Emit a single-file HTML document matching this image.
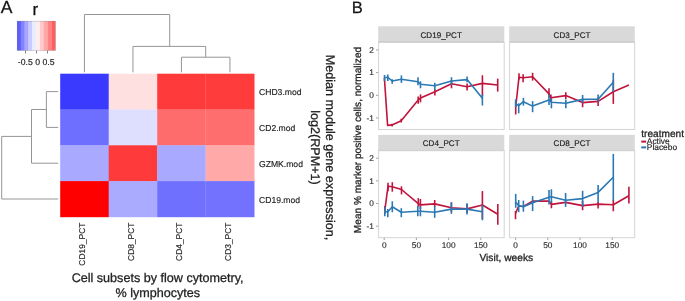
<!DOCTYPE html>
<html><head><meta charset="utf-8"><style>
html,body{margin:0;padding:0;background:#fff;}
body{width:685px;height:301px;overflow:hidden;}
svg{display:block;font-family:"Liberation Sans", sans-serif;will-change:transform;text-rendering:geometricPrecision;}
text{stroke:#222;stroke-width:0.28px;}
</style></head><body>
<svg width="685" height="301" viewBox="0 0 685 301">
<rect x="60.20" y="73.70" width="48.80" height="36.10" fill="#3a3aff"/>
<rect x="108.70" y="73.70" width="48.80" height="36.10" fill="#ffe0e0"/>
<rect x="157.20" y="73.70" width="48.80" height="36.10" fill="#ff3a3a"/>
<rect x="205.70" y="73.70" width="48.80" height="36.10" fill="#ff3c3c"/>
<rect x="60.20" y="109.50" width="48.80" height="36.10" fill="#6f6fff"/>
<rect x="108.70" y="109.50" width="48.80" height="36.10" fill="#dedeff"/>
<rect x="157.20" y="109.50" width="48.80" height="36.10" fill="#ff6c6c"/>
<rect x="205.70" y="109.50" width="48.80" height="36.10" fill="#ff6e6e"/>
<rect x="60.20" y="145.30" width="48.80" height="36.10" fill="#a9a9ff"/>
<rect x="108.70" y="145.30" width="48.80" height="36.10" fill="#ff3a3a"/>
<rect x="157.20" y="145.30" width="48.80" height="36.10" fill="#a9a9ff"/>
<rect x="205.70" y="145.30" width="48.80" height="36.10" fill="#ffa9a9"/>
<rect x="60.20" y="181.10" width="48.80" height="36.10" fill="#ff0000"/>
<rect x="108.70" y="181.10" width="48.80" height="36.10" fill="#aaaaff"/>
<rect x="157.20" y="181.10" width="48.80" height="36.10" fill="#7070ff"/>
<rect x="205.70" y="181.10" width="48.80" height="36.10" fill="#7272ff"/>
<line x1="205.6" y1="73.7" x2="205.6" y2="216.89999999999998" stroke="#fff" stroke-opacity="0.18" stroke-width="0.8"/>
<line x1="84.45" y1="14.5" x2="169.7" y2="14.5" stroke="#959595" stroke-width="1"/>
<line x1="84.45" y1="14.5" x2="84.45" y2="72.3" stroke="#959595" stroke-width="1"/>
<line x1="169.7" y1="14.5" x2="169.7" y2="46.4" stroke="#959595" stroke-width="1"/>
<line x1="132.95" y1="46.4" x2="205.7" y2="46.4" stroke="#959595" stroke-width="1"/>
<line x1="132.95" y1="46.4" x2="132.95" y2="72.3" stroke="#959595" stroke-width="1"/>
<line x1="205.7" y1="46.4" x2="205.7" y2="57.2" stroke="#959595" stroke-width="1"/>
<line x1="181.45" y1="57.2" x2="229.95" y2="57.2" stroke="#959595" stroke-width="1"/>
<line x1="181.45" y1="57.2" x2="181.45" y2="72.3" stroke="#959595" stroke-width="1"/>
<line x1="229.95" y1="57.2" x2="229.95" y2="72.3" stroke="#959595" stroke-width="1"/>
<line x1="46.4" y1="91.6" x2="58.2" y2="91.6" stroke="#959595" stroke-width="1"/>
<line x1="46.4" y1="127.4" x2="58.2" y2="127.4" stroke="#959595" stroke-width="1"/>
<line x1="46.4" y1="91.6" x2="46.4" y2="127.4" stroke="#959595" stroke-width="1"/>
<line x1="31.5" y1="109.5" x2="46.4" y2="109.5" stroke="#959595" stroke-width="1"/>
<line x1="31.5" y1="163.2" x2="58.2" y2="163.2" stroke="#959595" stroke-width="1"/>
<line x1="31.5" y1="109.5" x2="31.5" y2="163.2" stroke="#959595" stroke-width="1"/>
<line x1="1.7" y1="136.4" x2="31.5" y2="136.4" stroke="#959595" stroke-width="1"/>
<line x1="1.7" y1="199.0" x2="58.2" y2="199.0" stroke="#959595" stroke-width="1"/>
<line x1="1.7" y1="136.4" x2="1.7" y2="199.0" stroke="#959595" stroke-width="1"/>
<rect x="17.00" y="21" width="4.03" height="29.5" fill="#5e5eff"/>
<rect x="20.83" y="21" width="4.03" height="29.5" fill="#8282ff"/>
<rect x="24.66" y="21" width="4.03" height="29.5" fill="#a6a6ff"/>
<rect x="28.49" y="21" width="4.03" height="29.5" fill="#cacaff"/>
<rect x="32.32" y="21" width="4.03" height="29.5" fill="#ececff"/>
<rect x="36.15" y="21" width="4.03" height="29.5" fill="#ffecec"/>
<rect x="39.98" y="21" width="4.03" height="29.5" fill="#ffcaca"/>
<rect x="43.81" y="21" width="4.03" height="29.5" fill="#ffa6a6"/>
<rect x="47.64" y="21" width="4.03" height="29.5" fill="#ff8282"/>
<rect x="51.47" y="21" width="4.03" height="29.5" fill="#ff5e5e"/>
<rect x="17.2" y="21.2" width="38.1" height="29.1" fill="none" stroke="#777" stroke-opacity="0.45" stroke-width="0.6"/>
<line x1="25.5" y1="50.5" x2="25.5" y2="53.5" stroke="#777" stroke-width="0.9"/>
<line x1="36.5" y1="50.5" x2="36.5" y2="53.5" stroke="#777" stroke-width="0.9"/>
<line x1="47.5" y1="50.5" x2="47.5" y2="53.5" stroke="#777" stroke-width="0.9"/>
<text style="stroke-width:0.15px" x="36.2" y="65" font-size="8.7" text-anchor="middle" fill="#222">-0.5 0 0.5</text>
<text x="0.7" y="13" font-size="17.5" fill="#111">A</text>
<text x="32.5" y="14.8" font-size="17" fill="#111">r</text>
<text style="stroke-width:0.15px" x="259" y="95.2" font-size="8.6" fill="#222">CHD3.mod</text>
<text style="stroke-width:0.15px" x="259" y="131.0" font-size="8.6" fill="#222">CD2.mod</text>
<text style="stroke-width:0.15px" x="259" y="166.8" font-size="8.6" fill="#222">GZMK.mod</text>
<text style="stroke-width:0.15px" x="259" y="202.6" font-size="8.6" fill="#222">CD19.mod</text>
<text style="stroke-width:0.15px" transform="translate(85.0,222.5) rotate(-90)" x="0" y="0" font-size="8.45" text-anchor="end" fill="#222">CD19_PCT</text>
<text style="stroke-width:0.15px" transform="translate(133.5,222.5) rotate(-90)" x="0" y="0" font-size="8.45" text-anchor="end" fill="#222">CD8_PCT</text>
<text style="stroke-width:0.15px" transform="translate(182.0,222.5) rotate(-90)" x="0" y="0" font-size="8.45" text-anchor="end" fill="#222">CD4_PCT</text>
<text style="stroke-width:0.15px" transform="translate(230.5,222.5) rotate(-90)" x="0" y="0" font-size="8.45" text-anchor="end" fill="#222">CD3_PCT</text>
<text x="157.6" y="282.3" font-size="12.6" text-anchor="middle" fill="#222">Cell subsets by flow cytometry,</text>
<text x="157.8" y="297.2" font-size="12.6" text-anchor="middle" fill="#222">% lymphocytes</text>
<text transform="translate(326,147.5) rotate(90)" font-size="12.6" text-anchor="middle" fill="#222">Median module gene expression,</text>
<text transform="translate(311,147.5) rotate(90)" font-size="12.6" text-anchor="middle" fill="#222">log2(RPM+1)</text>
<text x="351.8" y="12.6" font-size="16.5" fill="#111">B</text>
<rect x="378.2" y="26.3" width="126.10000000000002" height="16.2" fill="#d9d9d9"/>
<line x1="378.2" y1="42.3" x2="504.3" y2="42.3" stroke="#ababab" stroke-width="1.2"/>
<rect x="378.6" y="42.5" width="125.6" height="87.0" fill="#fff" stroke="#d4d4d4" stroke-width="1"/>
<text style="stroke-width:0.15px" x="441.2" y="37.75" font-size="8.1" text-anchor="middle" fill="#1a1a1a">CD19_PCT</text>
<rect x="509.2" y="26.3" width="125.59999999999997" height="16.2" fill="#d9d9d9"/>
<line x1="509.2" y1="42.3" x2="634.8" y2="42.3" stroke="#ababab" stroke-width="1.2"/>
<rect x="509.6" y="42.5" width="125.1" height="87.0" fill="#fff" stroke="#d4d4d4" stroke-width="1"/>
<text style="stroke-width:0.15px" x="572.0" y="37.75" font-size="8.1" text-anchor="middle" fill="#1a1a1a">CD3_PCT</text>
<rect x="378.2" y="134.9" width="126.10000000000002" height="15.799999999999983" fill="#d9d9d9"/>
<line x1="378.2" y1="150.5" x2="504.3" y2="150.5" stroke="#ababab" stroke-width="1.2"/>
<rect x="378.6" y="150.7" width="125.6" height="87.0" fill="#fff" stroke="#d4d4d4" stroke-width="1"/>
<text style="stroke-width:0.15px" x="441.2" y="145.95" font-size="8.1" text-anchor="middle" fill="#1a1a1a">CD4_PCT</text>
<rect x="509.2" y="134.9" width="125.59999999999997" height="15.799999999999983" fill="#d9d9d9"/>
<line x1="509.2" y1="150.5" x2="634.8" y2="150.5" stroke="#ababab" stroke-width="1.2"/>
<rect x="509.6" y="150.7" width="125.1" height="87.0" fill="#fff" stroke="#d4d4d4" stroke-width="1"/>
<text style="stroke-width:0.15px" x="572.0" y="145.95" font-size="8.1" text-anchor="middle" fill="#1a1a1a">CD8_PCT</text>
<line x1="376" y1="49.959999999999994" x2="378.2" y2="49.959999999999994" stroke="#999" stroke-width="0.9"/>
<text style="stroke-width:0.15px" x="373.8" y="52.8" font-size="8.3" text-anchor="end" fill="#333">2</text>
<line x1="376" y1="72.63" x2="378.2" y2="72.63" stroke="#999" stroke-width="0.9"/>
<text style="stroke-width:0.15px" x="373.8" y="75.4" font-size="8.3" text-anchor="end" fill="#333">1</text>
<line x1="376" y1="95.3" x2="378.2" y2="95.3" stroke="#999" stroke-width="0.9"/>
<text style="stroke-width:0.15px" x="373.8" y="98.1" font-size="8.3" text-anchor="end" fill="#333">0</text>
<line x1="376" y1="117.97" x2="378.2" y2="117.97" stroke="#999" stroke-width="0.9"/>
<text style="stroke-width:0.15px" x="373.8" y="120.8" font-size="8.3" text-anchor="end" fill="#333">-1</text>
<line x1="376" y1="158.16" x2="378.2" y2="158.16" stroke="#999" stroke-width="0.9"/>
<text style="stroke-width:0.15px" x="373.8" y="161.0" font-size="8.3" text-anchor="end" fill="#333">2</text>
<line x1="376" y1="180.82999999999998" x2="378.2" y2="180.82999999999998" stroke="#999" stroke-width="0.9"/>
<text style="stroke-width:0.15px" x="373.8" y="183.6" font-size="8.3" text-anchor="end" fill="#333">1</text>
<line x1="376" y1="203.5" x2="378.2" y2="203.5" stroke="#999" stroke-width="0.9"/>
<text style="stroke-width:0.15px" x="373.8" y="206.3" font-size="8.3" text-anchor="end" fill="#333">0</text>
<line x1="376" y1="226.17000000000002" x2="378.2" y2="226.17000000000002" stroke="#999" stroke-width="0.9"/>
<text style="stroke-width:0.15px" x="373.8" y="229.0" font-size="8.3" text-anchor="end" fill="#333">-1</text>
<line x1="384.2" y1="237.7" x2="384.2" y2="240" stroke="#999" stroke-width="0.9"/>
<text style="stroke-width:0.15px" x="384.2" y="248.4" font-size="8.3" text-anchor="middle" fill="#333">0</text>
<line x1="416.4" y1="237.7" x2="416.4" y2="240" stroke="#999" stroke-width="0.9"/>
<text style="stroke-width:0.15px" x="416.4" y="248.4" font-size="8.3" text-anchor="middle" fill="#333">50</text>
<line x1="448.6" y1="237.7" x2="448.6" y2="240" stroke="#999" stroke-width="0.9"/>
<text style="stroke-width:0.15px" x="448.6" y="248.4" font-size="8.3" text-anchor="middle" fill="#333">100</text>
<line x1="480.8" y1="237.7" x2="480.8" y2="240" stroke="#999" stroke-width="0.9"/>
<text style="stroke-width:0.15px" x="480.8" y="248.4" font-size="8.3" text-anchor="middle" fill="#333">150</text>
<line x1="515.6" y1="237.7" x2="515.6" y2="240" stroke="#999" stroke-width="0.9"/>
<text style="stroke-width:0.15px" x="515.6" y="248.4" font-size="8.3" text-anchor="middle" fill="#333">0</text>
<line x1="547.8" y1="237.7" x2="547.8" y2="240" stroke="#999" stroke-width="0.9"/>
<text style="stroke-width:0.15px" x="547.8" y="248.4" font-size="8.3" text-anchor="middle" fill="#333">50</text>
<line x1="580.0" y1="237.7" x2="580.0" y2="240" stroke="#999" stroke-width="0.9"/>
<text style="stroke-width:0.15px" x="580.0" y="248.4" font-size="8.3" text-anchor="middle" fill="#333">100</text>
<line x1="612.2" y1="237.7" x2="612.2" y2="240" stroke="#999" stroke-width="0.9"/>
<text style="stroke-width:0.15px" x="612.2" y="248.4" font-size="8.3" text-anchor="middle" fill="#333">150</text>
<text x="506.3" y="260.6" font-size="10.2" text-anchor="middle" fill="#222">Visit, weeks</text>
<text transform="translate(361,140) rotate(-90)" font-size="10.1" text-anchor="middle" fill="#222">Mean % marker positive cells, normalized</text>
<text x="641.3" y="137.4" font-size="10.1" fill="#222">treatment</text>
<line x1="641.3" y1="141.6" x2="646.1" y2="141.6" stroke="#c0143c" stroke-width="2"/>
<line x1="641.3" y1="147.4" x2="646.1" y2="147.4" stroke="#2a78b4" stroke-width="2"/>
<text style="stroke-width:0.15px" x="646.8" y="144.2" font-size="8.4" fill="#222">Active</text>
<text style="stroke-width:0.15px" x="646.8" y="150.2" font-size="8.4" fill="#222">Placebo</text>
<polyline points="384.4,78 387.6,125.4 392.1,124.9 401.2,120.7 418.2,100.1 420.5,98 434.9,91.8 451.5,83.7 467.1,86.7 482.4,83.4 497.7,85" fill="none" stroke="#c0143c" stroke-width="1.6" stroke-linejoin="round"/>
<line x1="392.1" y1="123.7" x2="392.1" y2="126.4" stroke="#c0143c" stroke-width="1.6"/>
<line x1="401.2" y1="118.7" x2="401.2" y2="122.4" stroke="#c0143c" stroke-width="1.6"/>
<line x1="418.2" y1="96.4" x2="418.2" y2="103.8" stroke="#c0143c" stroke-width="1.6"/>
<line x1="420.5" y1="94.4" x2="420.5" y2="102.4" stroke="#c0143c" stroke-width="1.6"/>
<line x1="434.9" y1="89.4" x2="434.9" y2="95.5" stroke="#c0143c" stroke-width="1.6"/>
<line x1="451.5" y1="80" x2="451.5" y2="88.3" stroke="#c0143c" stroke-width="1.6"/>
<line x1="467.1" y1="83.6" x2="467.1" y2="90.5" stroke="#c0143c" stroke-width="1.6"/>
<line x1="482.4" y1="75.3" x2="482.4" y2="96" stroke="#c0143c" stroke-width="1.6"/>
<line x1="497.7" y1="78.6" x2="497.7" y2="91.6" stroke="#c0143c" stroke-width="1.6"/>
<polyline points="384.5,77.8 387.8,77.3 392.2,81 401.4,79.3 418,81.7 420.5,84.3 434.8,85.8 451.5,81 467.1,79.6 482.4,98.3" fill="none" stroke="#2a78b4" stroke-width="1.6" stroke-linejoin="round"/>
<line x1="384.5" y1="75" x2="384.5" y2="81" stroke="#2a78b4" stroke-width="1.6"/>
<line x1="387.8" y1="74.5" x2="387.8" y2="81" stroke="#2a78b4" stroke-width="1.6"/>
<line x1="392.2" y1="79.2" x2="392.2" y2="83.8" stroke="#2a78b4" stroke-width="1.6"/>
<line x1="401.4" y1="75.4" x2="401.4" y2="82.9" stroke="#2a78b4" stroke-width="1.6"/>
<line x1="418" y1="77.3" x2="418" y2="85.2" stroke="#2a78b4" stroke-width="1.6"/>
<line x1="420.5" y1="81.3" x2="420.5" y2="88.3" stroke="#2a78b4" stroke-width="1.6"/>
<line x1="434.8" y1="82.8" x2="434.8" y2="90" stroke="#2a78b4" stroke-width="1.6"/>
<line x1="451.5" y1="77.2" x2="451.5" y2="85" stroke="#2a78b4" stroke-width="1.6"/>
<line x1="467.1" y1="76.4" x2="467.1" y2="82.2" stroke="#2a78b4" stroke-width="1.6"/>
<line x1="482.4" y1="94.4" x2="482.4" y2="105.5" stroke="#2a78b4" stroke-width="1.6"/>
<polyline points="515.7,107 519,77.2 523.1,77.8 532.6,76.7 549,93.9 550.9,97.8 565.8,95.6 582.6,102.6 598.1,101.4 613.3,91.8 628.9,85" fill="none" stroke="#c0143c" stroke-width="1.6" stroke-linejoin="round"/>
<line x1="515.7" y1="100.5" x2="515.7" y2="114.5" stroke="#c0143c" stroke-width="1.6"/>
<line x1="519" y1="73.3" x2="519" y2="79.4" stroke="#c0143c" stroke-width="1.6"/>
<line x1="523.1" y1="74.2" x2="523.1" y2="82.2" stroke="#c0143c" stroke-width="1.6"/>
<line x1="532.6" y1="72.8" x2="532.6" y2="80.6" stroke="#c0143c" stroke-width="1.6"/>
<line x1="549" y1="88.3" x2="549" y2="97.2" stroke="#c0143c" stroke-width="1.6"/>
<line x1="550.9" y1="94.4" x2="550.9" y2="101.7" stroke="#c0143c" stroke-width="1.6"/>
<line x1="565.8" y1="92.2" x2="565.8" y2="98.9" stroke="#c0143c" stroke-width="1.6"/>
<line x1="582.6" y1="98.9" x2="582.6" y2="107.2" stroke="#c0143c" stroke-width="1.6"/>
<line x1="598.1" y1="97.8" x2="598.1" y2="106.1" stroke="#c0143c" stroke-width="1.6"/>
<line x1="613.3" y1="80" x2="613.3" y2="103.9" stroke="#c0143c" stroke-width="1.6"/>
<polyline points="515.7,103.9 518.7,105.6 523.4,101.7 532.6,106.1 549,100 551.4,102.2 565.8,103.3 582.6,99.4 598.1,99.2 613.3,82.2" fill="none" stroke="#2a78b4" stroke-width="1.6" stroke-linejoin="round"/>
<line x1="515.7" y1="99.4" x2="515.7" y2="107.2" stroke="#2a78b4" stroke-width="1.6"/>
<line x1="518.7" y1="103.3" x2="518.7" y2="113.3" stroke="#2a78b4" stroke-width="1.6"/>
<line x1="523.4" y1="97.8" x2="523.4" y2="105.6" stroke="#2a78b4" stroke-width="1.6"/>
<line x1="532.6" y1="101.1" x2="532.6" y2="112.2" stroke="#2a78b4" stroke-width="1.6"/>
<line x1="549" y1="94.4" x2="549" y2="105" stroke="#2a78b4" stroke-width="1.6"/>
<line x1="551.4" y1="98.3" x2="551.4" y2="108.3" stroke="#2a78b4" stroke-width="1.6"/>
<line x1="565.8" y1="99.4" x2="565.8" y2="108.3" stroke="#2a78b4" stroke-width="1.6"/>
<line x1="582.6" y1="95" x2="582.6" y2="102.8" stroke="#2a78b4" stroke-width="1.6"/>
<line x1="598.1" y1="94.4" x2="598.1" y2="101.7" stroke="#2a78b4" stroke-width="1.6"/>
<line x1="613.3" y1="72.8" x2="613.3" y2="91.7" stroke="#2a78b4" stroke-width="1.6"/>
<polyline points="384.8,210.5 388,186.3 392.3,186.7 401.5,189.5 418.3,203.6 420.4,204.9 434.7,203.9 451.4,207.8 467,208.9 482.4,205 497.8,214.3" fill="none" stroke="#c0143c" stroke-width="1.6" stroke-linejoin="round"/>
<line x1="384.8" y1="206" x2="384.8" y2="214" stroke="#c0143c" stroke-width="1.6"/>
<line x1="388" y1="182.7" x2="388" y2="191.3" stroke="#c0143c" stroke-width="1.6"/>
<line x1="392.3" y1="182.2" x2="392.3" y2="191.7" stroke="#c0143c" stroke-width="1.6"/>
<line x1="401.5" y1="186.3" x2="401.5" y2="194.4" stroke="#c0143c" stroke-width="1.6"/>
<line x1="418.3" y1="198.1" x2="418.3" y2="206.7" stroke="#c0143c" stroke-width="1.6"/>
<line x1="420.4" y1="199" x2="420.4" y2="209" stroke="#c0143c" stroke-width="1.6"/>
<line x1="434.7" y1="200" x2="434.7" y2="206.7" stroke="#c0143c" stroke-width="1.6"/>
<line x1="451.4" y1="202.4" x2="451.4" y2="212" stroke="#c0143c" stroke-width="1.6"/>
<line x1="467" y1="204" x2="467" y2="213" stroke="#c0143c" stroke-width="1.6"/>
<line x1="482.4" y1="191.1" x2="482.4" y2="218.9" stroke="#c0143c" stroke-width="1.6"/>
<line x1="497.8" y1="204" x2="497.8" y2="224.7" stroke="#c0143c" stroke-width="1.6"/>
<polyline points="384.8,211.8 387.8,211.8 392.3,206.8 401.3,212.2 417.8,211.3 420.4,211.3 434.7,212.2 451.4,209.1 467,209.1 482.4,211.7" fill="none" stroke="#2a78b4" stroke-width="1.6" stroke-linejoin="round"/>
<line x1="384.8" y1="206.7" x2="384.8" y2="216.3" stroke="#2a78b4" stroke-width="1.6"/>
<line x1="387.8" y1="209" x2="387.8" y2="217.2" stroke="#2a78b4" stroke-width="1.6"/>
<line x1="392.3" y1="201.3" x2="392.3" y2="212.2" stroke="#2a78b4" stroke-width="1.6"/>
<line x1="401.3" y1="208.2" x2="401.3" y2="217.2" stroke="#2a78b4" stroke-width="1.6"/>
<line x1="417.8" y1="206" x2="417.8" y2="216.3" stroke="#2a78b4" stroke-width="1.6"/>
<line x1="420.4" y1="206.3" x2="420.4" y2="216.3" stroke="#2a78b4" stroke-width="1.6"/>
<line x1="434.7" y1="206.1" x2="434.7" y2="217.8" stroke="#2a78b4" stroke-width="1.6"/>
<line x1="451.4" y1="202.4" x2="451.4" y2="213.9" stroke="#2a78b4" stroke-width="1.6"/>
<line x1="467" y1="203.3" x2="467" y2="214.6" stroke="#2a78b4" stroke-width="1.6"/>
<line x1="482.4" y1="205" x2="482.4" y2="220.3" stroke="#2a78b4" stroke-width="1.6"/>
<polyline points="515.5,213.5 518.7,206 523.4,206.5 532.6,201.1 549,201.1 551.4,204.4 565.6,202.4 582.6,205.6 598.1,204.1 613.3,204.7 628.9,195.8" fill="none" stroke="#c0143c" stroke-width="1.6" stroke-linejoin="round"/>
<line x1="515.5" y1="211" x2="515.5" y2="219.2" stroke="#c0143c" stroke-width="1.6"/>
<line x1="551.4" y1="201.5" x2="551.4" y2="208.3" stroke="#c0143c" stroke-width="1.6"/>
<line x1="582.6" y1="201" x2="582.6" y2="210.2" stroke="#c0143c" stroke-width="1.6"/>
<line x1="598.1" y1="201.9" x2="598.1" y2="208.6" stroke="#c0143c" stroke-width="1.6"/>
<line x1="613.3" y1="199.7" x2="613.3" y2="211.3" stroke="#c0143c" stroke-width="1.6"/>
<line x1="628.9" y1="186.7" x2="628.9" y2="203.6" stroke="#c0143c" stroke-width="1.6"/>
<polyline points="515.7,202.2 518.7,205.6 523.4,206.7 532.6,202.8 549,197.2 551.4,196.7 565.6,200.2 582.6,198.6 598.1,192.4 613.3,177.2" fill="none" stroke="#2a78b4" stroke-width="1.6" stroke-linejoin="round"/>
<line x1="515.7" y1="193.9" x2="515.7" y2="207.8" stroke="#2a78b4" stroke-width="1.6"/>
<line x1="518.7" y1="200" x2="518.7" y2="212.2" stroke="#2a78b4" stroke-width="1.6"/>
<line x1="523.4" y1="200.6" x2="523.4" y2="211.7" stroke="#2a78b4" stroke-width="1.6"/>
<line x1="532.6" y1="196.1" x2="532.6" y2="211.1" stroke="#2a78b4" stroke-width="1.6"/>
<line x1="549" y1="189.9" x2="549" y2="204.4" stroke="#2a78b4" stroke-width="1.6"/>
<line x1="551.4" y1="189.3" x2="551.4" y2="202.8" stroke="#2a78b4" stroke-width="1.6"/>
<line x1="565.6" y1="193" x2="565.6" y2="206.9" stroke="#2a78b4" stroke-width="1.6"/>
<line x1="582.6" y1="190.8" x2="582.6" y2="206.4" stroke="#2a78b4" stroke-width="1.6"/>
<line x1="598.1" y1="185" x2="598.1" y2="202.4" stroke="#2a78b4" stroke-width="1.6"/>
<line x1="613.3" y1="153.9" x2="613.3" y2="200.4" stroke="#2a78b4" stroke-width="1.6"/>
</svg>
</body></html>
